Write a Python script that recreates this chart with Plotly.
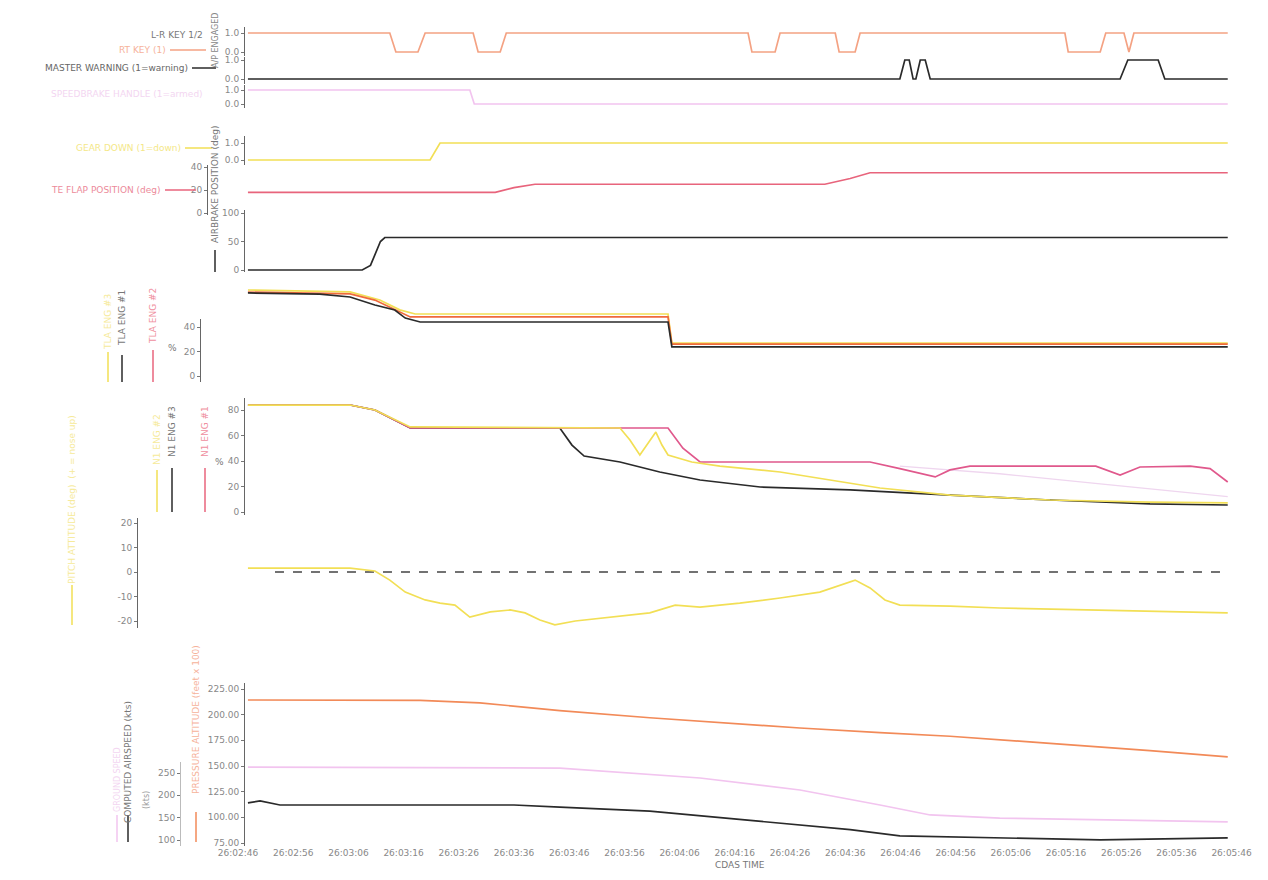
import plotly.graph_objects as go

# ---------------- data (time in seconds from 26:02:46) ----------------
TIME_TICK_SECONDS = [0, 10, 20, 30, 40, 50, 60, 70, 80, 90, 100, 110, 120, 130, 140, 150, 160, 170, 180]
TIME_TICK_LABELS = ["26:02:46", "26:02:56", "26:03:06", "26:03:16", "26:03:26", "26:03:36", "26:03:46",
                    "26:03:56", "26:04:06", "26:04:16", "26:04:26", "26:04:36", "26:04:46", "26:04:56",
                    "26:05:06", "26:05:16", "26:05:26", "26:05:36", "26:05:46"]

KEY_T = [1.8, 27.5, 28.6, 32.6, 33.9, 42.6, 43.5, 47.5, 48.6, 92.4, 93.1, 97.3, 98.2,
         108.2, 108.9, 111.8, 112.7, 149.8, 150.4, 156.2, 157.2, 160.5, 161.4, 162.3, 179.3]
KEY_V = [1, 1, 0, 0, 1, 1, 0, 0, 1, 1, 0, 0, 1, 1, 0, 0, 1, 1, 0, 0, 1, 1, 0, 1, 1]

MW_T = [1.8, 119.9, 120.8, 121.6, 122.3, 122.8, 123.6, 124.5, 125.4, 159.8, 161.2, 166.7, 167.9, 179.3]
MW_V = [0, 0, 1, 1, 0, 0, 1, 1, 0, 0, 1, 1, 0, 0]

SB_T = [1.8, 42.0, 42.8, 179.3]
SB_V = [1, 1, 0, 0]

GEAR_T = [1.8, 34.8, 36.6, 179.3]
GEAR_V = [0, 0, 1, 1]

FLAP_T = [1.8, 46.6, 50.0, 53.8, 106.3, 110.9, 114.5, 179.3]
FLAP_V = [18, 18, 22, 25, 25, 30, 35, 35]

AB_T = [1.8, 22.5, 24.0, 25.0, 25.8, 26.6, 179.3]
AB_V = [0, 0, 8, 30, 50, 57, 57]

TLA1_T = [1.8, 14.8, 20.3, 24.8, 28.4, 30.3, 33.0, 77.9, 78.6, 179.3]
TLA1_V = [67.8, 66.9, 64.5, 58, 53.9, 47.3, 44.1, 44.1, 23.7, 23.7]
TLA2_T = [1.8, 20.3, 24.8, 28.4, 31.2, 77.9, 78.6, 179.3]
TLA2_V = [68.5, 67, 62, 54, 48.2, 48.2, 26.1, 26.1]
TLA3_T = [1.8, 20.3, 25.7, 29.3, 32.1, 77.9, 78.6, 179.3]
TLA3_V = [70.2, 68.6, 62, 54, 50.6, 50.6, 26.9, 26.9]

N1_3_T = [1.8, 20.3, 24.8, 28.4, 31.2, 58.3, 60.5, 62.7, 69.2, 76.4, 83.7, 94.6, 110.9, 129.0, 147.1, 165.2, 179.3]
N1_3_V = [83.9, 83.9, 80, 72.2, 65.9, 65.9, 52.5, 43.9, 39.2, 31.4, 25.1, 19.6, 17.3, 13.3, 9.4, 6.3, 5.5]
N1_1_T = [1.8, 20.3, 24.8, 28.4, 31.2, 77.9, 80.6, 83.7, 114.5, 119.9, 126.3, 129.0, 132.6, 155.4,
          159.8, 163.4, 172.5, 176.1, 179.3]
N1_1_V = [83.9, 83.9, 80, 72.2, 65.9, 65.9, 50, 39.2, 39.2, 34, 27.5, 33, 36, 36, 29, 35.3, 36, 34, 23.5]
N1_2_T = [1.8, 20.3, 24.8, 28.4, 31.2, 69.2, 71.0, 72.8, 74.6, 75.7, 76.8, 77.9, 82.2, 87.3, 98.2,
          107.2, 116.3, 129.0, 147.1, 165.2, 179.3]
N1_2_V = [83.9, 83.9, 80, 72.2, 66.7, 65.9, 56.5, 44.7, 56.5, 62.7, 52.5, 44.7, 39.2, 36, 31.4,
          25, 18.8, 13.3, 9.4, 7.8, 7.1]
N1_X_T = [119.9, 138.0, 156.2, 179.3]
N1_X_V = [36, 30, 22, 12]

PITCH_T = [1.8, 20.3, 24.8, 27.5, 30.3, 33.9, 36.6, 39.3, 42.0, 45.7, 49.3, 52.0, 54.7, 57.4, 61.1, 67.4,
           74.6, 79.2, 83.7, 90.9, 98.2, 105.4, 110.9, 111.8, 114.5, 117.2, 119.9, 129.0, 138.0, 156.2, 174.3, 179.3]
PITCH_V = [1.6, 1.6, 0.4, -3.3, -8.2, -11.4, -12.7, -13.5, -18.4, -16.3, -15.5, -16.7, -19.6, -21.6, -20, -18.4,
           -16.7, -13.5, -14.3, -12.7, -10.6, -8.2, -4.1, -3.3, -6.5, -11.4, -13.5, -13.9, -14.7, -15.5, -16.3, -16.7]
REF_T = [6.7, 179.3]
REF_V = [0, 0]

ALT_T = [1.8, 33.0, 43.8, 58.3, 74.6, 87.3, 101.8, 116.3, 129.0, 147.1, 165.2, 179.3]
ALT_V = [214.3, 214, 211.5, 204, 197, 192, 187, 182.5, 179, 172, 165, 158.8]
GS_T = [1.8, 58.3, 83.7, 101.8, 116.3, 125.4, 138.0, 179.3]
GS_V = [149, 148, 138.3, 126.6, 112, 102.3, 99.3, 95.5]
CAS_T = [1.8, 4.0, 7.6, 50.0, 58.3, 74.6, 92.8, 110.9, 119.9, 138.0, 156.2, 179.3]
CAS_V = [114, 116, 112, 112, 110, 106, 97, 88, 82, 80, 78, 80]

# ---------------- layout helpers (arguments are window pixels) ----------------
PAGE_OFF = 8                      # default body margin of the html page
W, H = 1268 - 2 * PAGE_OFF, 880 - 2 * PAGE_OFF
T0_PX, PX_PER_S = 238.0, 5.52
X_LEFT, X_RIGHT = 236, 1240


def fx(x):
    return (x - PAGE_OFF) / W


def fy(y):
    return 1 - (y - PAGE_OFF) / H


def dom(top, bot):
    return [fy(bot), fy(top)]


def rng(top, bot, va, pa, vb, pb):
    s = (va - vb) / (pb - pa)
    return [vb - (bot - pb) * s, va + (pa - top) * s]


C_ORANGE_TOP = '#f4a283'
C_BLACK = '#2a2a2a'
C_PINK = '#f2c4ef'
C_YELLOW = '#f2df55'
C_RED = '#e8647c'
C_MAGENTA = '#e0588c'
C_ORANGE = '#f28a58'
C_LAV = '#efd6ef'

fig = go.Figure()


def add(t, v, ax, color, width=1.7, dash=None):
    fig.add_trace(go.Scatter(x=t, y=v, xaxis='x', yaxis=ax, mode='lines',
                             line=dict(color=color, width=width, dash=dash),
                             showlegend=False, hoverinfo='skip'))


add(KEY_T, KEY_V, 'y', C_ORANGE_TOP)
add(MW_T, MW_V, 'y2', C_BLACK)
add(SB_T, SB_V, 'y3', C_PINK)
add(GEAR_T, GEAR_V, 'y4', C_YELLOW)
add(FLAP_T, FLAP_V, 'y5', C_RED)
add(AB_T, AB_V, 'y6', C_BLACK)
add(TLA3_T, TLA3_V, 'y7', C_YELLOW)
add(TLA2_T, TLA2_V, 'y7', '#ef6a3c')
add(TLA1_T, TLA1_V, 'y7', C_BLACK)
add(N1_X_T, N1_X_V, 'y8', C_LAV, 1.3)
add(N1_3_T, N1_3_V, 'y8', C_BLACK)
add(N1_1_T, N1_1_V, 'y8', C_MAGENTA)
add(N1_2_T, N1_2_V, 'y8', C_YELLOW)
add(REF_T, REF_V, 'y9', '#444444', 1.6, 'dash')
add(PITCH_T, PITCH_V, 'y9', C_YELLOW)
add(ALT_T, ALT_V, 'y10', C_ORANGE)
add(GS_T, GS_V, 'y10', C_PINK)
add(CAS_T, CAS_V, 'y10', C_BLACK)
# carriers for the two free-standing scale axes
fig.add_trace(go.Scatter(x=[None], y=[None], xaxis='x', yaxis='y11', showlegend=False))
fig.add_trace(go.Scatter(x=[None], y=[None], xaxis='x', yaxis='y12', showlegend=False))

FONT = 'DejaVu Sans'
base = dict(showgrid=False, zeroline=False, showline=True, linecolor='#666', linewidth=1,
            ticks='outside', ticklen=3, tickcolor='#777', automargin=False,
            tickfont=dict(size=9, color='#888', family=FONT), anchor='free', fixedrange=True)
AX = fx(244)

layout_axes = {
    'yaxis': dict(base, domain=dom(27, 56), range=rng(27, 56, 1, 33, 0, 52), position=AX,
                  tickvals=[1, 0], ticktext=['1.0', '0.0']),
    'yaxis2': dict(base, domain=dom(57, 84), range=rng(57, 84, 1, 60, 0, 79), position=AX,
                   tickvals=[1, 0], ticktext=['1.0', '0.0']),
    'yaxis3': dict(base, domain=dom(85, 108), range=rng(85, 108, 1, 90, 0, 104), position=AX,
                   tickvals=[1, 0], ticktext=['1.0', '0.0']),
    'yaxis4': dict(base, domain=dom(136, 165), range=rng(136, 165, 1, 143, 0, 160), position=AX,
                   tickvals=[1, 0], ticktext=['1.0', '0.0']),
    'yaxis5': dict(base, domain=dom(165, 215), range=rng(165, 215, 40, 167, 0, 213), position=fx(207),
                   tickvals=[0, 20, 40]),
    'yaxis6': dict(base, domain=dom(210, 272), range=rng(210, 272, 100, 213, 0, 270), position=AX,
                   tickvals=[0, 50, 100]),
    'yaxis7': dict(base, domain=dom(284, 382), range=rng(284, 382, 40, 327, 0, 376), visible=False),
    'yaxis11': dict(base, domain=dom(319, 382), range=rng(319, 382, 40, 327, 0, 376), position=fx(200),
                    tickvals=[0, 20, 40]),
    'yaxis8': dict(base, domain=dom(398, 515), range=rng(398, 515, 80, 410, 0, 512), position=AX,
                   tickvals=[0, 20, 40, 60, 80]),
    'yaxis9': dict(base, domain=dom(518, 628), range=rng(518, 628, 20, 523, 0, 572), position=fx(137),
                   tickvals=[20, 10, 0, -10, -20], ticktext=['20', '10', '0', '-10', '-20']),
    'yaxis10': dict(base, domain=dom(683, 846), range=rng(683, 846, 225, 689, 75, 843), position=AX,
                    tickvals=[75, 100, 125, 150, 175, 200, 225],
                    ticktext=['75.00', '100.00', '125.00', '150.00', '175.00', '200.00', '225.00']),
    'yaxis12': dict(base, domain=dom(762, 846), range=rng(762, 846, 250, 773, 100, 840), position=fx(180),
                    tickvals=[100, 150, 200, 250], linecolor='#bbb'),
}

# ---------------- annotations & legend marks ----------------
anns = []
shapes = []


def ann(text, x, y, color, size=9, xanchor='right', angle=0, yanchor='middle'):
    anns.append(dict(text=text, x=fx(x), y=fy(y), xref='paper', yref='paper', showarrow=False,
                     xanchor=xanchor, yanchor=yanchor, textangle=angle,
                     font=dict(size=size, color=color, family=FONT)))


def hl(x0, x1, y, color, w=1.5):
    shapes.append(dict(type='line', xref='paper', yref='paper', x0=fx(x0), x1=fx(x1),
                       y0=fy(y), y1=fy(y), line=dict(color=color, width=w)))


def vl(x, y0, y1, color, w=1.5):
    shapes.append(dict(type='line', xref='paper', yref='paper', x0=fx(x), x1=fx(x),
                       y0=fy(y0), y1=fy(y1), line=dict(color=color, width=w)))


ann('L-R KEY 1/2', 205, 35, '#777')
ann('RT KEY (1)', 168, 50, '#f6b29a')
hl(170, 206, 50, C_ORANGE_TOP)
ann('MASTER WARNING (1=warning)', 190, 68, '#666')
hl(192, 216, 68, C_BLACK)
ann('A/P ENGAGED', 216, 40, '#888', 8, 'center', -90)
ann('SPEEDBRAKE HANDLE (1=armed)', 205, 94, '#f3d6f1')
ann('GEAR DOWN (1=down)', 183, 148, '#f4e788')
hl(185, 212, 148, C_YELLOW)
ann('TE FLAP POSITION (deg)', 163, 190, '#ec8a9a')
hl(165, 196, 190, C_RED)
ann('AIRBRAKE POSITION (deg)', 215, 185, '#777', 9, 'center', -90)
vl(215, 250, 272, C_BLACK)

# TLA panel
ann('TLA ENG #3', 108, 322, '#f6ea9a', 9, 'center', -90)
vl(108, 352, 382, C_YELLOW)
ann('TLA ENG #1', 122, 318, '#777', 9, 'center', -90)
vl(122, 355, 382, C_BLACK)
ann('TLA ENG #2', 153, 316, '#ef8fa0', 9, 'center', -90)
vl(153, 350, 382, C_RED)
ann('%', 172, 348, '#777', 9, 'center')

# N1 panel
ann('N1 ENG #2', 157, 440, '#f6ea9a', 9, 'center', -90)
vl(157, 470, 512, C_YELLOW)
ann('N1 ENG #3', 172, 432, '#777', 9, 'center', -90)
vl(172, 468, 512, C_BLACK)
ann('N1 ENG #1', 205, 432, '#ef8fa0', 9, 'center', -90)
vl(205, 468, 512, C_RED)
ann('%', 219, 462, '#777', 9, 'center')

# Pitch
ann('PITCH ATTITUDE (deg)  (+ = nose up)', 72, 500, '#f6ea9a', 9, 'center', -90)
vl(72, 585, 625, C_YELLOW)

# Bottom panel
ann('PRESSURE ALTITUDE (feet x 100)', 196, 720, '#f6b29a', 9, 'center', -90)
vl(196, 812, 842, C_ORANGE)
ann('COMPUTED AIRSPEED (kts)', 128, 762, '#777', 9, 'center', -90)
vl(128, 815, 842, C_BLACK)
ann('GROUND SPEED', 117, 780, '#f3d6f1', 8, 'center', -90)
vl(117, 815, 842, C_PINK)
ann('(kts)', 146, 800, '#999', 8, 'center', -90)

ann('CDAS TIME', 740, 865, '#777', 9, 'center')

fig.update_layout(
    width=W, height=H, autosize=False,
    margin=dict(l=0, r=0, t=0, b=0),
    paper_bgcolor='white', plot_bgcolor='rgba(0,0,0,0)',
    showlegend=False,
    xaxis=dict(domain=[fx(X_LEFT), fx(X_RIGHT)],
               range=[(X_LEFT - T0_PX) / PX_PER_S, (X_RIGHT - T0_PX) / PX_PER_S],
               anchor='y10', showgrid=False, zeroline=False, showline=False, automargin=False,
               tickvals=TIME_TICK_SECONDS, ticktext=TIME_TICK_LABELS, ticks='',
               tickfont=dict(size=9, color='#888', family=FONT), fixedrange=True),
    annotations=anns, shapes=shapes,
    **layout_axes,
)

fig.write_html("out.html")
